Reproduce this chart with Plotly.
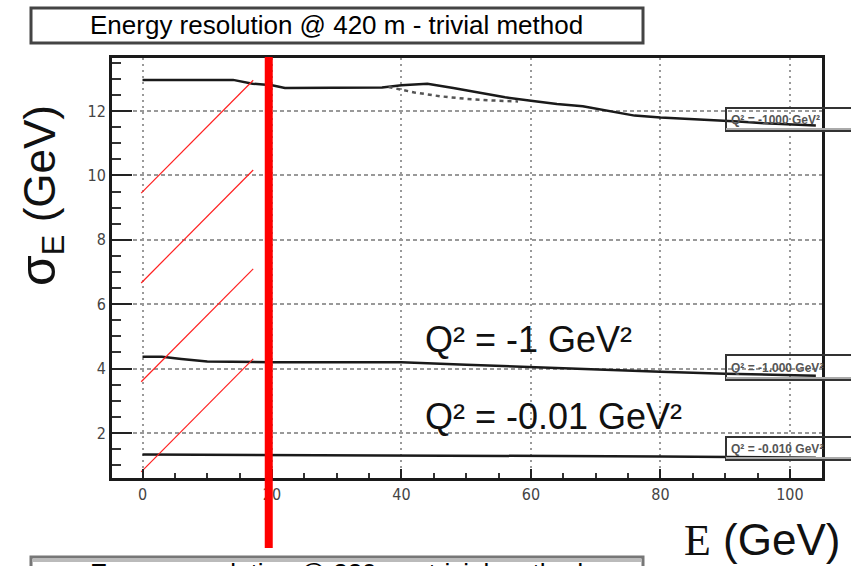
import plotly.graph_objects as go

# ---------------- data ----------------
E_top = [0, 14, 17, 20, 22, 30, 37, 40, 44, 48, 52, 56, 60, 64, 68, 72, 76, 80, 84, 88, 92, 96, 100, 104]
sig_top = [12.97, 12.97, 12.85, 12.8, 12.72, 12.72, 12.73, 12.8, 12.85, 12.72, 12.58, 12.43, 12.32,
           12.22, 12.15, 12.0, 11.86, 11.8, 11.76, 11.73, 11.68, 11.62, 11.58, 11.55]
E_top_alt = [38, 42, 46, 50, 54, 58]
sig_top_alt = [12.75, 12.58, 12.46, 12.38, 12.33, 12.3]
E_mid = [0, 3, 6, 10, 20, 30, 40, 50, 60, 70, 80, 90, 100, 104]
sig_mid = [4.37, 4.37, 4.3, 4.22, 4.2, 4.2, 4.2, 4.12, 4.04, 3.97, 3.9, 3.84, 3.8, 3.78]
E_low = [0, 20, 40, 60, 80, 100, 104]
sig_low = [1.33, 1.32, 1.31, 1.29, 1.27, 1.24, 1.23]

guide_x = [-0.2, 17.1]
guide_starts = [9.45, 6.66, 3.59, 0.79]
guide_ends = [12.96, 10.17, 7.1, 4.3]

cut_energy = 19.5

x_ticks = [0, 20, 40, 60, 80, 100]
y_ticks = [2, 4, 6, 8, 10, 12]

title_text = "Energy resolution @ 420 m - trivial method"
lower_title_text = "Energy resolution @ 220 m - trivial method"
curve_labels = ["Q² = -1000 GeV²", "Q² = -1.000 GeV²", "Q² = -0.010 GeV²"]
big_labels = ["Q² = -1 GeV²", "Q² = -0.01 GeV²"]

# ---------------- layout geometry ----------------
W, H = 851, 566
L, R, T, B = 112, 29, 58, 88
PW, PH = W - L - R, H - T - B


def px(x):
    return (x - L) / PW


def py(y):
    return (H - B - y) / PH


fig = go.Figure()

line_col = "#1a1a1a"
fig.add_trace(go.Scatter(x=E_top, y=sig_top, mode="lines",
                         line=dict(color=line_col, width=2.5), showlegend=False, hoverinfo="skip"))
fig.add_trace(go.Scatter(x=E_top_alt, y=sig_top_alt, mode="lines",
                         line=dict(color="#555", width=2.5, dash="4px,4px"), showlegend=False, hoverinfo="skip"))
fig.add_trace(go.Scatter(x=E_mid, y=sig_mid, mode="lines",
                         line=dict(color=line_col, width=2.5), showlegend=False, hoverinfo="skip"))
fig.add_trace(go.Scatter(x=E_low, y=sig_low, mode="lines",
                         line=dict(color=line_col, width=2.5), showlegend=False, hoverinfo="skip"))

gx, gy = [], []
for s, e in zip(guide_starts, guide_ends):
    gx += [guide_x[0], guide_x[1], None]
    gy += [s, e, None]
fig.add_trace(go.Scatter(x=gx, y=gy, mode="lines", connectgaps=False,
                         line=dict(color="#ff2020", width=1.2), showlegend=False, hoverinfo="skip"))

shapes = []
# thick red cut line (extends below plot)
shapes.append(dict(type="line", xref="x", yref="paper", x0=cut_energy, x1=cut_energy,
                   y0=py(548), y1=py(57), line=dict(color="#ff0000", width=8), layer="above"))
# title box
shapes.append(dict(type="rect", xref="paper", yref="paper", x0=px(31), x1=px(643),
                   y0=py(43), y1=py(8), line=dict(color="#444", width=3), fillcolor="white"))
# lower (cut-off) box
shapes.append(dict(type="rect", xref="paper", yref="paper", x0=px(31), x1=px(643),
                   y0=py(640), y1=py(557), line=dict(color="#777", width=3), fillcolor="white"))
shapes.append(dict(type="rect", xref="paper", yref="paper", x0=px(33), x1=px(641),
                   y0=py(562), y1=py(559), line=dict(width=0), fillcolor="#bbbbbb"))
# small legend-like boxes on the right
box_rows = [(108, 131), (355, 380), (437, 460)]
for (y0, y1) in box_rows:
    shapes.append(dict(type="rect", xref="paper", yref="paper", x0=px(726), x1=px(870),
                       y0=py(y1), y1=py(y0), line=dict(color="#333", width=2),
                       fillcolor="rgba(255,255,255,0)", layer="above"))
    shapes.append(dict(type="line", xref="paper", yref="paper", x0=px(726), x1=px(870),
                       y0=py(y1 - 2), y1=py(y1 - 2), line=dict(color="#aaa", width=2), layer="above"))
fig.update_layout(shapes=shapes)

ann = []
ann.append(dict(xref="paper", yref="paper", x=px(336), y=py(25), text=title_text,
                showarrow=False, xanchor="center", yanchor="middle",
                font=dict(family="Liberation Sans, Arial", size=26, color="#000")))
ann.append(dict(xref="paper", yref="paper", x=px(336), y=py(573), text=lower_title_text,
                showarrow=False, xanchor="center", yanchor="middle",
                font=dict(family="Liberation Sans, Arial", size=26, color="#000")))
for (y0, y1), lab in zip(box_rows, curve_labels):
    ann.append(dict(xref="paper", yref="paper", x=px(729), y=py((y0 + y1) / 2), text="<b>" + lab + "</b>",
                    showarrow=False, xanchor="left", yanchor="middle",
                    font=dict(family="Liberation Sans Narrow, Arial", size=12, color="#555")))
ann.append(dict(xref="paper", yref="paper", x=px(423), y=py(339), text=big_labels[0],
                showarrow=False, xanchor="left", yanchor="middle",
                font=dict(family="Liberation Sans, Arial", size=36, color="#111")))
ann.append(dict(xref="paper", yref="paper", x=px(423), y=py(416), text=big_labels[1],
                showarrow=False, xanchor="left", yanchor="middle",
                font=dict(family="Liberation Sans, Arial", size=36, color="#111")))
# axis titles
ann.append(dict(xref="paper", yref="paper", x=px(762), y=py(540),
                text="<span style='font-family:Liberation Serif'>E</span> (GeV)",
                showarrow=False, xanchor="center", yanchor="middle",
                font=dict(family="Liberation Sans, Arial", size=44, color="#111")))
ann.append(dict(xref="paper", yref="paper", x=px(40), y=py(196),
                text="<span style='font-size:50px'>σ</span><sub>E</sub> (GeV)", textangle=-90,
                showarrow=False, xanchor="center", yanchor="middle",
                font=dict(family="Liberation Sans, Arial", size=44, color="#111")))
fig.update_layout(annotations=ann)

tickfont = dict(family="Liberation Sans Narrow, DejaVu Sans Condensed, Arial", size=16, color="#444")

fig.update_xaxes(range=[-4.71, 104.95], tickvals=x_ticks, ticktext=[str(v) for v in x_ticks],
                 showline=True, linecolor="#1a1a1a", linewidth=3, mirror=True,
                 ticks="inside", ticklen=9, tickwidth=2, tickcolor="#222",
                 minor=dict(dtick=5, tick0=0, ticks="inside", ticklen=5, tickwidth=2, tickcolor="#333",
                            showgrid=False),
                 showgrid=True, gridcolor="#999", gridwidth=2, griddash="2px,4px",
                 zeroline=False, tickfont=tickfont)
fig.update_yaxes(range=[0.60, 13.65], tickvals=y_ticks, ticktext=[str(v) for v in y_ticks],
                 showline=True, linecolor="#1a1a1a", linewidth=3, mirror=True,
                 ticks="inside", ticklen=20, tickwidth=2, tickcolor="#222",
                 minor=dict(dtick=0.5, tick0=0, ticks="inside", ticklen=9, tickwidth=2, tickcolor="#333",
                            showgrid=False),
                 showgrid=True, gridcolor="#999", gridwidth=2, griddash="4px,3px",
                 zeroline=False, tickfont=tickfont)

fig.update_layout(width=W, height=H, margin=dict(l=L, r=R, t=T, b=B, pad=0),
                  paper_bgcolor="white", plot_bgcolor="white", showlegend=False)

fig.write_html("out.html")
